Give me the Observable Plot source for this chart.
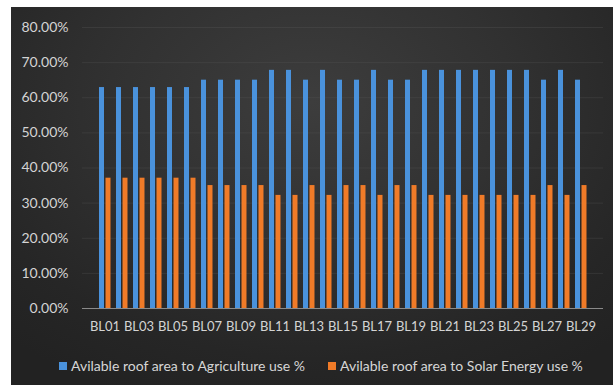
<!DOCTYPE html>
<html>
<head>
<meta charset="utf-8">
<script src="https://cdn.jsdelivr.net/npm/d3@7"></script>
<script src="https://cdn.jsdelivr.net/npm/@observablehq/plot@0.6"></script>
<style>
  html, body { margin: 0; padding: 0; background: #ffffff; }
  body { width: 613px; height: 385px; overflow: hidden; position: relative; }
  #frame {
    position: absolute; left: 11px; top: 7px; width: 602px; height: 378px;
    background: radial-gradient(ellipse 75% 85% at 50% 25%, #3d3d3d 0%, #313131 45%, #262626 80%, #222222 100%);
    font-family: Lato, "Open Sans", sans-serif;
  }
  #chart { position: absolute; left: 0; top: 0; }
  .legend { position: absolute; top: 350px; height: 17px; font-size: 14px; color: #d6d6d6; white-space: nowrap; line-height: 17px; }
  .legend .sw { display: inline-block; width: 8px; height: 8px; vertical-align: middle; margin-right: 4px; position: relative; top: -1px; }
</style>
</head>
<body>
<div id="frame">
  <div id="chart"></div>
  <div class="legend" id="leg1" style="left:48px"></div>
  <div class="legend" id="leg2" style="left:317px"></div>
</div>
<script>
const categories = ["BL01","BL02","BL03","BL04","BL05","BL06","BL07","BL08","BL09","BL10",
  "BL11","BL12","BL13","BL14","BL15","BL16","BL17","BL18","BL19","BL20",
  "BL21","BL22","BL23","BL24","BL25","BL26","BL27","BL28","BL29"];
const agriculture = [62.9,62.9,62.9,62.9,62.9,62.9,65.0,65.0,65.0,65.0,
  67.8,67.8,65.0,67.8,65.0,65.0,67.8,65.0,65.0,67.8,
  67.8,67.8,67.8,67.8,67.8,67.8,65.0,67.8,65.0];
const solar = [37.1,37.1,37.1,37.1,37.1,37.1,35.0,35.0,35.0,35.0,
  32.2,32.2,35.0,32.2,35.0,35.0,32.2,35.0,35.0,32.2,
  32.2,32.2,32.2,32.2,32.2,32.2,35.0,32.2,35.0];
const seriesNames = ["Avilable roof area to Agriculture use %", "Avilable roof area to Solar Energy use %"];
const seriesColors = ["#4a92dc", "#f07b28"];
const yTicks = [0,10,20,30,40,50,60,70,80];
const xTickLabels = categories.filter((d, i) => i % 2 === 0);

const agriData = categories.map((c, i) => ({cat: c, value: agriculture[i] / 100}));
const solarData = categories.map((c, i) => ({cat: c, value: solar[i] / 100}));

const chart = Plot.plot({
  width: 602,
  height: 340,
  marginLeft: 71,
  marginRight: 10,
  marginTop: 20,
  marginBottom: 39,
  style: {background: "transparent", color: "#d4d4d4", fontFamily: "Lato, 'Open Sans', sans-serif", fontSize: "14px"},
  x: {domain: categories, padding: 0, label: null},
  y: {domain: [0, 0.8], label: null},
  marks: [
    Plot.ruleY(yTicks.slice(1).map(d => d / 100), {stroke: "#5a5a5a", strokeOpacity: 0.3}),
    Plot.barY(agriData, {x: "cat", y: "value", fill: seriesColors[0], insetLeft: 3, insetRight: 9}),
    Plot.barY(solarData, {x: "cat", y: "value", fill: seriesColors[1], insetLeft: 9.5, insetRight: 2.5}),
    Plot.ruleY([0], {stroke: "#8a8a8a", strokeWidth: 1}),
    Plot.axisY({ticks: yTicks.map(d => d / 100), tickSize: 0, tickPadding: 14, tickFormat: d => (d * 100).toFixed(2) + "%", fill: "#d4d4d4", fontSize: 14, label: null}),
    Plot.axisX({ticks: xTickLabels, tickSize: 0, tickPadding: 13, fill: "#d4d4d4", fontSize: 13, label: null})
  ]
});
document.getElementById("chart").appendChild(chart);

document.getElementById("leg1").innerHTML = `<span class="sw" style="background:${seriesColors[0]}"></span>${seriesNames[0]}`;
document.getElementById("leg2").innerHTML = `<span class="sw" style="background:${seriesColors[1]}"></span>${seriesNames[1]}`;
</script>
</body>
</html>
